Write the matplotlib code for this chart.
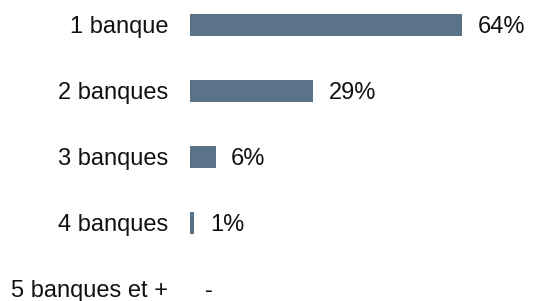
import matplotlib.pyplot as plt

categories = ["1 banque", "2 banques", "3 banques", "4 banques", "5 banques et +"]
values = [64, 29, 6, 1, 0]
value_labels = ["64%", "29%", "6%", "1%", "-"]

W, H = 533, 301
fig = plt.figure(figsize=(W / 100, H / 100), dpi=100)
plt.rcParams['font.family'] = ['Liberation Sans', 'DejaVu Sans']

# axes starts where the bars start (x=190 px), full height
ax = fig.add_axes([190 / W, 0, (W - 190) / W, 1])
px_per_pct = 4.25
ax.set_xlim(0, (W - 190) / px_per_pct)
ax.set_ylim((H - 24.5) / 66, -24.5 / 66)
ax.axis('off')

ypos = list(range(len(categories)))
ax.barh(ypos, values, height=22 / 66, color='#5B7389')

fs = 17
dy = -0.358 * fs
for y, v, cat, lab in zip(ypos, values, categories, value_labels):
    ax.annotate(cat, (0, y), xytext=(-22 * 0.72, dy), textcoords='offset points',
                ha='right', va='baseline', fontsize=fs, color='#111111')
    ax.annotate(lab, (v, y), xytext=(15.5 * 0.72, dy), textcoords='offset points',
                ha='left', va='baseline', fontsize=fs, color='#111111')

fig.savefig("out.png", dpi=100)
